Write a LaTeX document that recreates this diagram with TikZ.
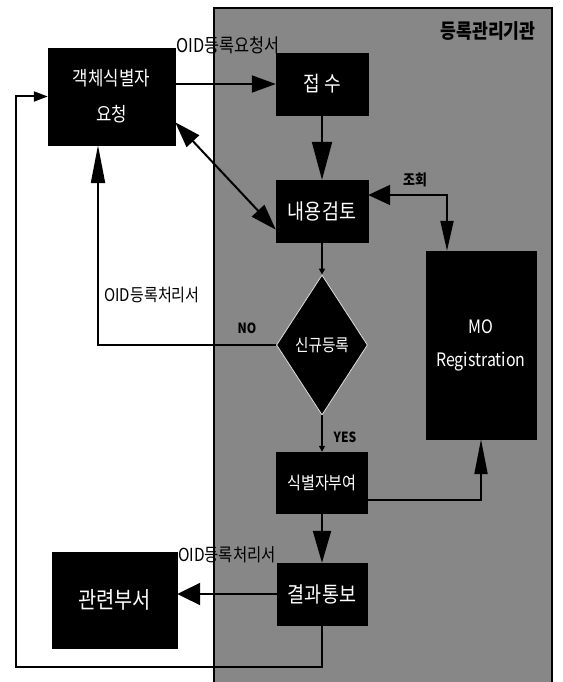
\documentclass[tikz,border=0pt]{standalone}
\usepackage{fontspec}
\usepackage{graphicx}
\setmainfont{Noto Sans CJK KR}
\usetikzlibrary{arrows.meta,shapes.geometric,calc}
\definecolor{scan}{RGB}{135,135,135}
\newcommand{\cnd}[1]{\scalebox{0.86}[1]{#1}}
\begin{document}
\begin{tikzpicture}[x=1pt,y=-1pt,
  box/.style={draw=black,fill=black,text=white,inner sep=0pt,align=center},
  lbl/.style={inner sep=0pt,text=black,font=\fontsize{19}{21}\selectfont},
  conn/.style={line width=2pt,black},
  smalltip/.style={-{Triangle[length=6pt,width=6pt]}}]
\useasboundingbox (0,0) rectangle (562,682);
\fill[white] (0,0) rectangle (562,682);
% registration authority area
\draw[fill=scan,line width=2.5pt] (214,8) rectangle (552,700);
\node[inner sep=0pt,font=\fontsize{20}{22}\selectfont\bfseries] (org) at (488,31) {\cnd{등록관리기관}};

% boxes
\node[box,minimum width=127pt,minimum height=97pt,font=\fontsize{19.5}{36}\selectfont] (obj) at (111.5,96.5) {\cnd{객체식별자}\\\cnd{요청}};
\node[box,minimum width=92pt,minimum height=62pt,font=\fontsize{21}{22}\selectfont] (recv) at (322,84) {\cnd{접 수}};
\node[box,minimum width=92pt,minimum height=62pt,font=\fontsize{21.5}{22}\selectfont] (check) at (322,211) {\cnd{내용검토}};
\node[diamond,fill=black,draw=white!75!gray,line width=0.8pt,inner sep=0pt,minimum width=91pt,minimum height=140pt,text=white,font=\fontsize{17}{17}\selectfont] (dec) at (322,345) {\cnd{신규등록}};
\node[box,minimum width=110pt,minimum height=188pt,font=\fontsize{18.5}{33}\selectfont] (mo) at (481,345) {\cnd{MO}\\\cnd{Registration}};
\node[box,minimum width=91pt,minimum height=61pt,font=\fontsize{17.5}{18}\selectfont] (id) at (322,482.5) {\cnd{식별자부여}};
\node[box,minimum width=90pt,minimum height=62pt,font=\fontsize{21.5}{22}\selectfont] (res) at (322,594) {\cnd{결과통보}};
\node[box,minimum width=125pt,minimum height=96pt,font=\fontsize{23}{24}\selectfont] (dept) at (114.5,600) {\cnd{관련부서}};

% labels
\node[lbl] (l1) at (228,45) {\cnd{OID등록요청서}};
\node[lbl,font=\fontsize{17.5}{19}\selectfont] (l2) at (152,295) {\cnd{OID등록처리서}};
\node[lbl,font=\fontsize{18}{20}\selectfont] (l3) at (227,555) {\cnd{OID등록처리서}};
\node[lbl,font=\fontsize{14}{14}\selectfont\bfseries] (lno) at (247,328) {\cnd{NO}};
\node[lbl,font=\fontsize{14}{14}\selectfont\bfseries] (lyes) at (345,437) {\cnd{YES}};
\node[lbl,font=\fontsize{15}{15}\selectfont\bfseries] (lq) at (415,180) {\cnd{조회}};

% connectors
\draw[conn,-{Triangle[length=24pt,width=17pt]}] (obj.east |- recv.west) -- (recv.west);
\draw[conn,-{Triangle[length=38pt,width=20pt]}] (recv.south) -- (check.north);
\draw[conn,{Triangle[length=26pt,width=17pt]}-{Triangle[length=26pt,width=17pt]}] (obj.-22) -- (check.-158);
\draw[conn,{Triangle[length=22pt,width=20pt]}-{Triangle[length=30pt,width=13pt]}] ([yshift=16pt]check.east) -| ([xshift=-34pt]mo.north);
\draw[conn,smalltip] (check.south) -- (dec.north);
\draw[conn,-{Triangle[length=38pt,width=14pt]}] (dec.west) -| ([xshift=-13.5pt]obj.south);
\draw[conn,smalltip] (dec.south) -- (id.north);
\draw[conn,-{Triangle[length=35pt,width=13pt]}] ([yshift=-17.5pt]id.east) -| (mo.south);
\draw[conn,-{Triangle[length=32pt,width=18pt]}] (id.south) -- (res.north);
\draw[conn,-{Triangle[length=23pt,width=22pt]}] (res.west) -- (res.west -| dept.east);
\coordinate (bl) at (16,667);
\draw[conn,-{Triangle[length=14pt,width=10pt]}] (res.south) |- (bl) |- (obj.west);
\end{tikzpicture}
\end{document}
